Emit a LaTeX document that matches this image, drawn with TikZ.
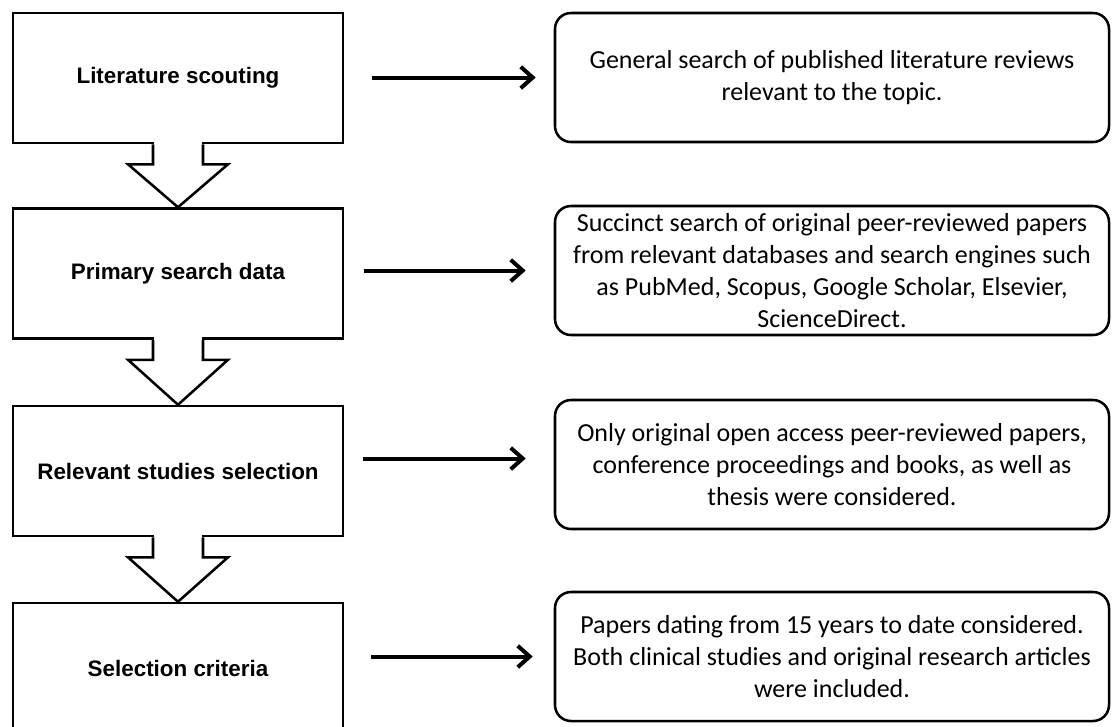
\documentclass[tikz,border=0pt]{standalone}
\usepackage{fontspec}
\setmainfont{Carlito}
\newfontfamily\arialfont{Liberation Sans}
\usetikzlibrary{arrows.meta,calc}

\begin{document}
\begin{tikzpicture}[x=0.75pt,y=-0.75pt,
    stage/.style={draw,line width=1.9pt,minimum width=247.5pt,minimum height=97.5pt,
        font=\arialfont\bfseries\fontsize{16.8}{20}\selectfont},
    info/.style={draw,line width=1.9pt,rounded corners=12pt,minimum width=415.5pt,
        minimum height=96.75pt,align=center,font=\fontsize{19.5}{24}\selectfont},
    flow/.style={line width=3pt,-{Straight Barb[length=9pt,width=16pt]}},
    blockline/.style={line width=1.9pt,line join=miter}]
    \useasboundingbox (0,0) rectangle (1112,726);
    \clip (0,0) rectangle (1112,726);
    \def\blockarrow#1#2{
        \fill[white] ($(#1.south)+(-24,-3)$) rectangle ($(#1.south)+(24,6)$);
        \draw[blockline] ($(#1.south)+(-25,0)$) -- ($(#1.south)+(-25,20)$) -- ($(#1.south)+(-50,20)$)
            -- (#2.north) -- ($(#1.south)+(50,20)$) -- ($(#1.south)+(25,20)$) -- ($(#1.south)+(25,0)$);
    }
    % left column
    \node[stage] (lit) at (178,78) {Literature scouting};
    \node[stage] (prim) at (178,273.5) {Primary search data};
    \node[stage] (rel) at (178,471) {Relevant studies selection};
    \node[stage] (sel) at (178,668) {Selection criteria};
    % right column
    \node[info] (litd) at (832,77.5) {General search of published literature reviews\\relevant to the topic.};
    \node[info] (primd) at (832,270.5) {Succinct search of original peer-reviewed papers\\from relevant databases and search engines such\\as PubMed, Scopus, Google Scholar, Elsevier,\\ScienceDirect.};
    \node[info] (reld) at (832,464.5) {Only original open access peer-reviewed papers,\\conference proceedings and books, as well as\\thesis were considered.};
    \node[info] (seld) at (832,656.5) {Papers dating from 15 years to date considered.\\Both clinical studies and original research articles\\were included.};
    \blockarrow{lit}{prim}
    \blockarrow{prim}{rel}
    \blockarrow{rel}{sel}
    \draw[flow] ($(lit.east |- litd.west)+(28,0)$) -- ($(litd.west)+(-18,0)$);
    \draw[flow] ($(prim.east |- primd.west)+(20,0)$) -- ($(primd.west)+(-28,0)$);
    \draw[flow] ($(rel.east |- reld.west)+(19,-6)$) -- ($(reld.west)+(-28,-6)$);
    \draw[flow] ($(sel.east |- seld.west)+(27,0)$) -- ($(seld.west)+(-21,0)$);
\end{tikzpicture}
\end{document}
